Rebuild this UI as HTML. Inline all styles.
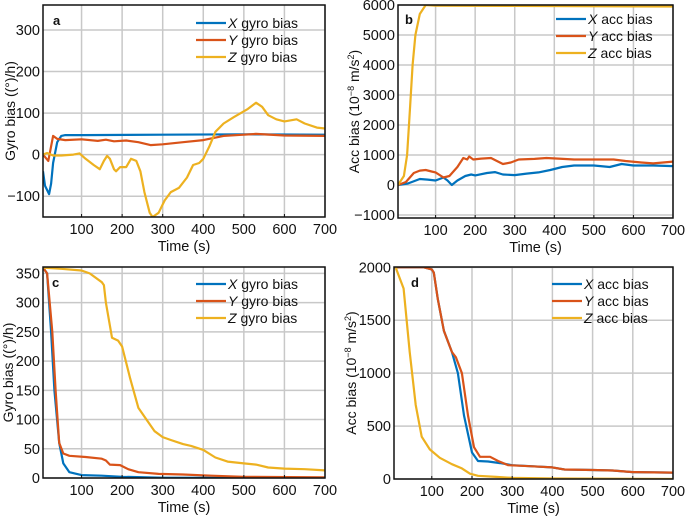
<!DOCTYPE html>
<html><head><meta charset="utf-8">
<style>
html,body{margin:0;padding:0;background:#fff;}
svg{display:block;font-family:"Liberation Sans",Arial,sans-serif;}
</style></head>
<body>
<svg id="fig" width="685" height="517" viewBox="0 0 685 517" xmlns="http://www.w3.org/2000/svg"></svg>
<script>
// ---------- data ----------
const xTicks = [100,200,300,400,500,600,700];
// panel a: gyro bias (deg/h)
const aTicks = [-100,0,100,200,300];
const aXt = [5,10,15,20,25,30,40,50,60,100,300,500,700];
const aXv = [-40,-75,-85,-95,-70,-20,30,45,47,47,48,49,48];
const aYt = [5,18,30,40,60,100,140,160,180,210,240,270,300,350,400,450,500,530,600,700];
const aYv = [0,-15,45,38,35,37,33,36,32,34,30,23,25,30,35,45,48,50,46,45];
const aZt = [5,15,30,50,80,95,110,130,145,155,163,170,180,185,195,210,222,235,245,255,268,275,290,305,320,340,360,375,390,400,415,430,450,475,510,530,545,560,580,600,630,650,680,700];
const aZv = [0,4,-2,-2,0,3,-10,-25,-35,-15,-3,-10,-35,-40,-30,-30,-10,-15,-40,-90,-140,-150,-140,-110,-90,-80,-55,-25,-20,-10,20,55,75,90,110,125,115,95,85,80,85,75,65,63];
// panel b: acc bias (1e-8 m/s^2)
const bTicks = [-1000,0,1000,2000,3000,4000,5000,6000];
const bXt = [5,30,60,80,100,120,130,141,155,175,190,200,230,250,270,300,330,360,390,420,450,500,540,570,600,650,700];
const bXv = [0,50,200,180,150,250,150,0,150,300,350,320,400,430,350,330,380,420,500,600,650,650,600,700,650,650,630];
const bYt = [5,25,45,60,75,90,100,120,135,155,170,180,185,195,215,240,255,270,290,310,350,380,410,450,550,580,620,650,700];
const bYv = [0,100,400,480,500,450,420,250,300,600,900,850,950,850,880,900,800,700,750,850,870,900,880,850,850,800,750,720,780];
const bZt = [5,20,28,35,42,49,60,75,100,300,700];
const bZv = [0,300,1000,2500,4000,5000,5700,6000,5980,5970,5950];
// panel c: gyro bias
const cTicks = [0,50,100,150,200,250,300,350];
const cXt = [5,15,25,33,45,55,70,100,150,200,300,700];
const cXv = [360,350,250,150,60,25,10,5,4,2,0.5,0];
const cYt = [5,15,28,36,45,55,70,110,150,160,170,195,215,240,290,350,420,500,700];
const cYv = [360,350,250,150,60,42,38,36,33,30,23,22,15,10,7,6,4,2,1];
const cZt = [5,50,100,120,150,155,160,175,190,200,220,240,260,280,300,320,350,370,400,430,460,500,530,560,600,650,700];
const cZv = [360,358,355,350,335,330,300,240,235,225,170,120,100,80,70,65,58,55,48,35,28,25,23,18,16,15,13];
// panel d: acc bias
const dTicks = [0,500,1000,1500,2000];
const dXt = [5,80,100,105,115,130,150,165,180,200,215,240,270,300,400,430,500,550,600,700];
const dXv = [2000,2000,1980,1950,1700,1400,1200,1000,600,250,170,165,150,130,110,90,85,80,65,60];
const dYt = [5,80,100,105,115,130,150,160,175,190,205,220,245,265,290,350,400,430,500,550,600,700];
const dYv = [2000,2000,1980,1950,1700,1400,1200,1150,1000,600,300,210,210,170,130,120,110,90,85,80,65,60];
const dZt = [10,30,45,60,75,95,120,150,175,195,215,260,300,400,700];
const dZv = [2000,1800,1200,700,400,280,200,140,100,50,30,20,10,5,0];

const COLORS = ['#0072BD','#D95319','#EDB120'];
const NS = 'http://www.w3.org/2000/svg';
const svg = document.getElementById('fig');
function mk(tag, attrs, parent){
  const e = document.createElementNS(NS, tag);
  for (const k in attrs) e.setAttribute(k, attrs[k]);
  (parent||svg).appendChild(e);
  return e;
}

function panel(cfg){
  const g = mk('g', {});
  
  
  const sx = v => cfg.L + (v - cfg.x0) / (cfg.x1 - cfg.x0) * (cfg.R - cfg.L);
  const sy = v => cfg.B - (v - cfg.y0) / (cfg.y1 - cfg.y0) * (cfg.B - cfg.T);
  const clip = mk('clipPath', {id: 'clip' + cfg.id}, g);
  mk('rect', {x: cfg.L, y: cfg.T, width: cfg.R - cfg.L, height: cfg.B - cfg.T}, clip);
  xTicks.forEach(t => {
    const l = mk('line', {x1: sx(t), x2: sx(t), y1: cfg.T, y2: cfg.B, stroke: '#c8c8c8', 'stroke-width': 1.5}, g);
    
    
    const tx = mk('text', {x: sx(t), y: cfg.B + 17, 'font-size': 14.5, 'text-anchor': 'middle', fill: '#111'}, g);
    tx.textContent = t;
    
    
  });
  cfg.yt.forEach(t => {
    const l = mk('line', {x1: cfg.L, x2: cfg.R, y1: sy(t), y2: sy(t), stroke: '#c8c8c8', 'stroke-width': 1.5}, g);
    
    
    const tx = mk('text', {x: cfg.L - 3, y: sy(t) + 5, 'font-size': 14.5, 'text-anchor': 'end', fill: '#111'}, g);
    tx.textContent = t < 0 ? '\u2212' + (-t) : t;
    
    
  });
  cfg.series.forEach((s, i) => {
    const d = s.t.map((t, j) => (j ? 'L' : 'M') + sx(t).toFixed(1) + ',' + sy(s.v[j]).toFixed(1)).join('');
    const p = mk('path', {d: d, fill: 'none', stroke: COLORS[i], 'stroke-width': 2.2, 'stroke-linejoin': 'round', 'clip-path': 'url(#clip' + cfg.id + ')'}, g);
    
    
  });
  const fr = mk('rect', {x: cfg.L, y: cfg.T, width: cfg.R - cfg.L, height: cfg.B - cfg.T, fill: 'none', stroke: '#111', 'stroke-width': 1.5}, g);
  
  
  xTicks.forEach(t => { mk('line', {x1: sx(t), x2: sx(t), y1: cfg.B, y2: cfg.B - 3, stroke: '#111'}, g); });
  const lt = mk('text', {x: cfg.lx, y: cfg.ly, 'font-size': 13, 'font-weight': 'bold', fill: '#111'}, g);
  lt.textContent = cfg.id;
  
  
  const xt = mk('text', {x: (cfg.L + cfg.R) / 2, y: cfg.B + 34, 'font-size': 14.5, 'text-anchor': 'middle', fill: '#111'}, g);
  xt.textContent = 'Time (s)';
  
  
  const yt = mk('text', {x: 0, y: 0, 'font-size': 14, 'text-anchor': 'middle', fill: '#111', transform: 'translate(' + cfg.ytx + ',' + (cfg.T + cfg.B) / 2 + ') rotate(-90)'}, g);
  yt.innerHTML = cfg.ytitle;
  
  
  cfg.series.forEach((s, i) => {
    const y = cfg.legY + i * 17;
    const l = mk('line', {x1: cfg.legX, x2: cfg.legX + 30, y1: y, y2: y, stroke: COLORS[i], 'stroke-width': 2.2}, g);
    
    
    const tx = mk('text', {x: cfg.legX + 32, y: y + 5, 'font-size': 14, fill: '#111'}, g);
    tx.innerHTML = '<tspan font-style="italic">' + 'XYZ'[i] + '</tspan> ' + cfg.legText;
    
    
  });
}

panel({id:'a', L:43, R:325, T:5, B:217, x0:5, x1:700, y0:-150, y1:360, yt:aTicks, lx:53, ly:25, ytx:15,
  ytitle:'Gyro bias ((°)/h)', legX:196, legY:23, legText:'gyro bias',
  series:[{name:'x-gyro',t:aXt,v:aXv},{name:'y-gyro',t:aYt,v:aYv},{name:'z-gyro',t:aZt,v:aZv}]});
panel({id:'b', L:398, R:673, T:5, B:218, x0:5, x1:700, y0:-1100, y1:6000, yt:bTicks, lx:405, ly:24, ytx:359,
  ytitle:'Acc bias (10<tspan baseline-shift="super" font-size="9">−8</tspan> m/s<tspan baseline-shift="super" font-size="9">2</tspan>)', legX:556, legY:19, legText:'acc bias',
  series:[{name:'x-acc',t:bXt,v:bXv},{name:'y-acc',t:bYt,v:bYv},{name:'z-acc',t:bZt,v:bZv}]});
panel({id:'c', L:43, R:325, T:267, B:478, x0:5, x1:700, y0:0, y1:361, yt:cTicks, lx:52, ly:287, ytx:13,
  ytitle:'Gyro bias ((°)/h)', legX:196, legY:284, legText:'gyro bias',
  series:[{name:'x-gyro',t:cXt,v:cXv},{name:'y-gyro',t:cYt,v:cYv},{name:'z-gyro',t:cZt,v:cZv}]});
panel({id:'d', L:394, R:673, T:267, B:479, x0:6, x1:700, y0:0, y1:2003, yt:dTicks, lx:411, ly:287, ytx:356,
  ytitle:'Acc bias (10<tspan baseline-shift="super" font-size="9">−8</tspan> m/s<tspan baseline-shift="super" font-size="9">2</tspan>)', legX:552, legY:284, legText:'acc bias',
  series:[{name:'x-acc',t:dXt,v:dXv},{name:'y-acc',t:dYt,v:dYv},{name:'z-acc',t:dZt,v:dZv}]});
</script>
</body></html>
